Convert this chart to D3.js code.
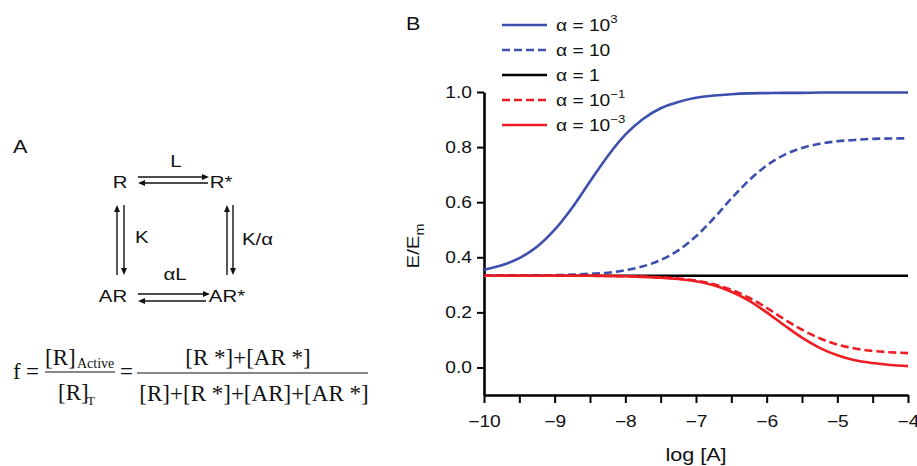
<!DOCTYPE html>
<html>
<head>
<meta charset="utf-8">
<script src="https://cdn.jsdelivr.net/npm/d3@7"></script>
<style>
  body { margin: 0; background: #fff; }
  svg { display: block; }
  text { font-family: "Liberation Sans", Arial, sans-serif; fill: #111; }
  .serif { font-family: "Liberation Serif", "Times New Roman", serif; }
</style>
</head>
<body>
<div id="chart"></div>
<script>
// data ------------------------------------------------------------------------------
const logA = [-10, -9.75, -9.5, -9.25, -9, -8.75, -8.5, -8.25, -8, -7.75, -7.5, -7.25, -7,
  -6.75, -6.5, -6.25, -6, -5.75, -5.5, -5.25, -5, -4.75, -4.5, -4.25, -4];
const alpha1000 = [0.355, 0.371, 0.397, 0.438, 0.500, 0.581, 0.675, 0.767, 0.845, 0.902, 0.941, 0.964, 0.979,
  0.987, 0.992, 0.995, 0.996, 0.997, 0.997, 0.998, 0.998, 0.998, 0.998, 0.998, 0.998];
const alpha10 = [0.334, 0.334, 0.334, 0.335, 0.335, 0.337, 0.340, 0.344, 0.353, 0.367, 0.390, 0.425, 0.476,
  0.541, 0.613, 0.679, 0.733, 0.772, 0.797, 0.812, 0.821, 0.826, 0.830, 0.831, 0.832];
const alpha1 = [0.333, 0.333, 0.333, 0.333, 0.333, 0.333, 0.333, 0.333, 0.333, 0.333, 0.333, 0.333, 0.333,
  0.333, 0.333, 0.333, 0.333, 0.333, 0.333, 0.333, 0.333, 0.333, 0.333, 0.333, 0.333];
const alpha01 = [0.333, 0.333, 0.333, 0.333, 0.333, 0.333, 0.333, 0.332, 0.331, 0.330, 0.327, 0.323, 0.315,
  0.302, 0.282, 0.253, 0.216, 0.175, 0.137, 0.106, 0.083, 0.069, 0.060, 0.055, 0.052];
const alpha0001 = [0.333, 0.333, 0.333, 0.333, 0.333, 0.333, 0.333, 0.332, 0.331, 0.329, 0.326, 0.321, 0.313,
  0.298, 0.275, 0.243, 0.200, 0.153, 0.108, 0.071, 0.044, 0.026, 0.016, 0.009, 0.005];
const xTicks = [-10, -9, -8, -7, -6, -5, -4];
const xMinorTicks = [-9.5, -8.5, -7.5, -6.5, -5.5, -4.5];
const yTicks = [0, 0.2, 0.4, 0.6, 0.8, 1.0];

const blue = '#3c4fae';
const red = '#ee1d23';
const series = [
  {base: 'α = 10', sup: '3', values: alpha1000, color: blue, dash: null},
  {base: 'α = 10', sup: null, values: alpha10, color: blue, dash: '8,4'},
  {base: 'α = 1', sup: null, values: alpha1, color: '#000', dash: null},
  {base: 'α = 10', sup: '−1', values: alpha01, color: red, dash: '8,4'},
  {base: 'α = 10', sup: '−3', values: alpha0001, color: red, dash: null}
];

const width = 917;
const height = 466;
const sx = 1.2; // the figure's lettering is a little wide
const svg = d3.select('#chart').append('svg')
  .attr('width', width)
  .attr('height', height);

const txt = (parent, x, y, s, size, anchor) => parent.append('text')
  .attr('transform', `translate(${x},${y}) scale(${sx},1)`)
  .attr('font-size', size)
  .attr('text-anchor', anchor || 'start')
  .text(s);

// panel A --------------------------------------------------------------------------
txt(svg, 13, 153, 'A', 18);

const arrow = (x1, y1, x2, y2) => {
  const ang = Math.atan2(y2 - y1, x2 - x1);
  const len = 7, half = 3;
  const bx = x2 - len * Math.cos(ang), by = y2 - len * Math.sin(ang);
  svg.append('line')
    .attr('x1', x1).attr('y1', y1).attr('x2', bx).attr('y2', by)
    .attr('stroke', '#111').attr('stroke-width', 1.4);
  svg.append('path')
    .attr('d', `M${x2},${y2}L${bx + half * Math.sin(ang)},${by - half * Math.cos(ang)}L${bx - half * Math.sin(ang)},${by + half * Math.cos(ang)}Z`)
    .attr('fill', '#111');
};

const sch = svg.append('g');
txt(sch, 120, 188, 'R', 17, 'middle');
txt(sch, 221, 188, 'R*', 17, 'middle');
txt(sch, 176, 167, 'L', 17, 'middle');
txt(sch, 135, 243, 'K', 17);
txt(sch, 242, 245, 'K/α', 17);
txt(sch, 175, 280, 'αL', 17, 'middle');
txt(sch, 113, 302, 'AR', 17, 'middle');
txt(sch, 227, 302, 'AR*', 17, 'middle');

arrow(138, 177, 209, 177);
arrow(208, 183, 138, 183);
arrow(117, 275, 117, 205);
arrow(124, 205, 124, 275);
arrow(227, 275, 227, 205);
arrow(233, 205, 233, 275);
arrow(138, 294, 210, 294);
arrow(206, 301, 138, 301);

// formula
const fm = svg.append('g').attr('font-size', 23);
fm.append('text').attr('class', 'serif').attr('x', 13).attr('y', 379).text('f');
fm.append('text').attr('class', 'serif').attr('x', 26).attr('y', 379).text('=');
fm.append('line').attr('x1', 45).attr('x2', 115).attr('y1', 372).attr('y2', 372)
  .attr('stroke', '#111').attr('stroke-width', 1.2);
fm.append('text').attr('class', 'serif').attr('x', 45).attr('y', 365).text('[R]');
fm.append('text').attr('class', 'serif').attr('x', 77).attr('y', 368).attr('font-size', 14).text('Active');
fm.append('text').attr('class', 'serif').attr('x', 58).attr('y', 400).text('[R]');
fm.append('text').attr('class', 'serif').attr('x', 87).attr('y', 405).attr('font-size', 13).text('T');
fm.append('text').attr('class', 'serif').attr('x', 120).attr('y', 379).text('=');
fm.append('line').attr('x1', 137).attr('x2', 368).attr('y1', 373).attr('y2', 373)
  .attr('stroke', '#111').attr('stroke-width', 1.2);
fm.append('text').attr('class', 'serif').attr('x', 248).attr('y', 365).attr('text-anchor', 'middle')
  .text('[R *]+[AR *]');
fm.append('text').attr('class', 'serif').attr('x', 254).attr('y', 401).attr('text-anchor', 'middle')
  .text('[R]+[R *]+[AR]+[AR *]');

// panel B --------------------------------------------------------------------------
txt(svg, 406, 30, 'B', 18);

const x = d3.scaleLinear().domain([-10, -4]).range([484, 908]);
const y = d3.scaleLinear().domain([-0.1, 1.0]).range([395, 92]);

svg.append('g')
  .attr('transform', `translate(${x(-10)},0)`)
  .call(d3.axisLeft(y).tickValues(yTicks).tickFormat(d3.format('.1f')).tickSize(7).tickSizeOuter(0).tickPadding(3));
svg.append('g')
  .attr('transform', `translate(0,${y(-0.1)})`)
  .call(d3.axisBottom(x).tickValues(xTicks).tickFormat(d3.format('d')).tickSize(8).tickSizeOuter(0).tickPadding(13));
svg.append('g')
  .attr('transform', `translate(0,${y(-0.1)})`)
  .call(d3.axisBottom(x).tickValues(xMinorTicks).tickFormat('').tickSize(8).tickSizeOuter(0))
  .select('.domain').remove();

svg.selectAll('.domain').attr('stroke', '#000').attr('stroke-width', 2.6);
svg.selectAll('.tick line').attr('stroke', '#000').attr('stroke-width', 2);
svg.selectAll('.tick text')
  .attr('font-size', 16).attr('fill', '#111')
  .attr('font-family', '"Liberation Sans", Arial, sans-serif')
  .attr('transform', `scale(${sx},1)`);

txt(svg, x(-7), 461, 'log [A]', 18, 'middle');

const yl = svg.append('text')
  .attr('transform', `translate(419,246) rotate(-90) scale(${sx},1)`)
  .attr('text-anchor', 'middle').attr('font-size', 17);
yl.append('tspan').text('E/E');
yl.append('tspan').attr('font-size', 12).attr('dy', 5).text('m');

// curves
const line = d3.line()
  .x((d, i) => x(logA[i]))
  .y(d => y(d))
  .curve(d3.curveMonotoneX);

svg.append('g').selectAll('path')
  .data(series)
  .enter()
  .append('path')
  .attr('d', d => line(d.values))
  .attr('fill', 'none')
  .attr('stroke', d => d.color)
  .attr('stroke-width', 2.6)
  .attr('stroke-dasharray', d => d.dash);

// legend
const lg = svg.append('g').selectAll('g')
  .data(series)
  .enter()
  .append('g')
  .attr('transform', (d, i) => `translate(0,${25 + 25 * i})`);
lg.append('line')
  .attr('x1', 502).attr('x2', 547)
  .attr('stroke', d => d.color)
  .attr('stroke-width', 2.6)
  .attr('stroke-dasharray', d => d.dash);
const lt = lg.append('text')
  .attr('transform', `translate(556,6) scale(${sx},1)`)
  .attr('font-size', 16);
lt.append('tspan').text(d => d.base);
lt.filter(d => d.sup)
  .append('tspan')
  .attr('font-size', 11)
  .attr('dy', -8)
  .text(d => d.sup);
</script>
</body>
</html>
